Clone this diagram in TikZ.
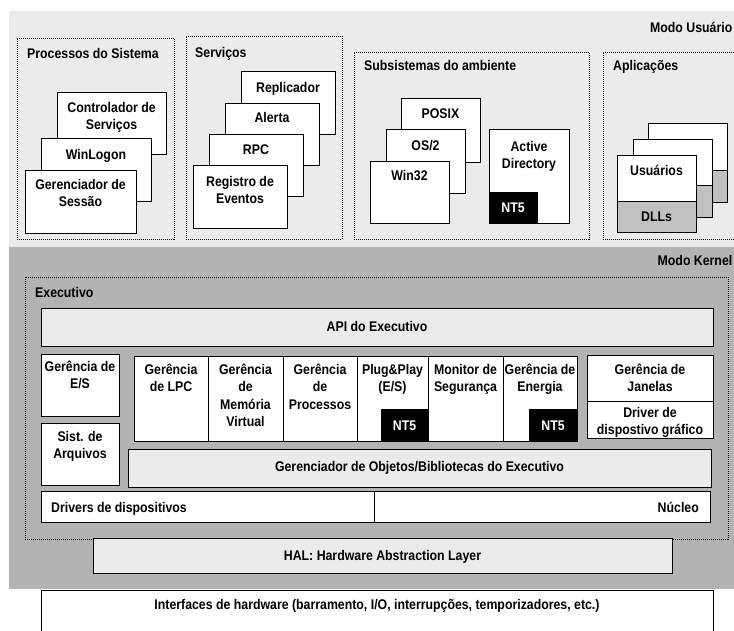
\documentclass[tikz,border=0pt]{standalone}
\usepackage{fontspec}
\setmainfont{Liberation Sans}[FakeStretch=0.88]
\definecolor{lightbg}{HTML}{EBEBEB}
\definecolor{kernbg}{HTML}{B3B3B3}
\definecolor{dllgray}{HTML}{C0C0C0}
\newcommand\bx[6]{\node[#1, anchor=north west, minimum width={(#5-#3)*1pt}, minimum height={(#6-#4)*1pt}] (#2) at (#3,#4) {};}
\newcommand\sa{\rule{0pt}{13pt}}
\newcommand\sd{\rule[-3pt]{0pt}{3pt}}
\begin{document}
\begin{tikzpicture}[x=1pt,y=-1pt,
  font=\fontsize{14}{17}\selectfont\bfseries,
  box/.style={draw=black, line width=0.9pt, fill=white, inner sep=0pt, outer sep=0pt},
  grbox/.style={box, fill=lightbg},
  dllbox/.style={box, fill=dllgray},
  group/.style={draw=black, line width=0.7pt, dash pattern=on 1pt off 1pt, inner sep=0pt, outer sep=0pt},
  bg/.style={draw=none, inner sep=0pt, outer sep=0pt},
  ntbox/.style={fill=black, draw=black, line width=0.9pt, inner sep=0pt, outer sep=0pt},
  txt/.style={inner sep=0pt, text height=13pt, text depth=3pt},
  ml/.style={inner sep=0pt, align=center},
  colml/.style={ml, font=\fontsize{14}{17.5}\selectfont\bfseries},
  wtxt/.style={txt, text=white}]
\useasboundingbox (0,0) rectangle (734,630);
% backgrounds
\bx{bg, fill=lightbg}{userbg}{9}{11}{745}{247}
\bx{bg, fill=kernbg}{kernelbg}{9}{247}{745}{589}
\bx{box}{hw}{41}{590}{713}{650}
\node[txt] (thw) at (377,604) {Interfaces de hardware (barramento, I/O, interrupções, temporizadores, etc.)};
% user mode
\node[txt, anchor=east] (tusr) at (732.5,27) {Modo Usuário};
\bx{group}{gproc}{17}{38}{174}{239}
\node[txt, anchor=west] (tproc) at (27,53) {Processos do Sistema};
\bx{group}{gserv}{186}{36}{342}{239}
\node[txt, anchor=west] (tserv) at (195,52) {Serviços};
\bx{group}{gsub}{354}{52}{589}{239}
\node[txt, anchor=west] (tsub) at (364,65) {Subsistemas do ambiente};
\bx{group}{gapp}{603}{52}{750}{239}
\node[txt, anchor=west] (tapp) at (613,65) {Aplicações};
% Processos do Sistema
\bx{box}{ctrl}{57}{92}{166}{154}
\node[ml] (tctrl) at (111.5,115.5) {\sa Controlador de\\Serviços\sd};
\bx{box}{winlogon}{41}{138}{151}{201}
\node[txt] (twinlogon) at (96,154) {WinLogon};
\bx{box}{gses}{25}{170}{136}{233}
\node[ml] (tgses) at (80.5,193) {\sa Gerenciador de\\Sessão\sd};
% Servicos
\bx{box}{repl}{241}{71}{335}{134}
\node[txt] (trepl) at (288,87) {Replicador};
\bx{box}{alerta}{225}{103}{319}{165}
\node[txt] (talerta) at (272,117) {Alerta};
\bx{box}{rpc}{209}{134}{303}{196}
\node[txt] (trpc) at (256,149) {RPC};
\bx{box}{reg}{193}{165}{287}{228}
\node[ml] (treg) at (240,190) {\sa Registro de\\Eventos\sd};
% Subsistemas
\bx{box}{posix}{401}{98}{480}{162}
\node[txt] (tposix) at (440.5,113) {POSIX};
\bx{box}{os2}{386}{129}{465}{193}
\node[txt] (tos2) at (425.5,145) {OS/2};
\bx{box}{win32}{370}{161}{449}{223}
\node[txt] (twin32) at (409.5,175) {Win32};
\bx{box}{adir}{489}{129}{569}{223}
\node[ml] (tadir) at (529,155) {\sa Active\\Directory\sd};
\bx{ntbox}{ntad}{489}{192}{537}{223}
\node[wtxt] (tntad) at (513,207.5) {NT5};
% Aplicacoes
\bx{box}{app3}{648}{123}{727}{202}
\bx{dllbox}{dll3}{648}{170}{727}{202}
\bx{box}{app2}{633}{139}{712}{217}
\bx{dllbox}{dll2}{633}{185}{712}{217}
\bx{box}{app1}{617}{155}{696}{232}
\bx{dllbox}{dll1}{617}{201}{696}{232}
\node[txt] (tusu) at (656.5,170) {Usuários};
\node[txt] (tdll) at (656.5,216) {DLLs};
% kernel mode
\node[txt, anchor=east] (tkern) at (732.5,260) {Modo Kernel};
\bx{group}{gexec}{25}{277}{728}{539}
\node[txt, anchor=west] (texec) at (35,292) {Executivo};
\bx{grbox}{api}{41}{308}{713}{346}
\node[txt] (tapi) at (377,326) {API do Executivo};
\bx{box}{es}{41}{354}{119}{416}
\node[ml] (tes) at (80,375) {\sa Gerência de\\E/S\sd};
\bx{box}{sarq}{41}{423}{119}{485}
\node[ml] (tsarq) at (80,444.5) {\sa Sist. de\\Arquivos\sd};
% columns
\bx{box}{lpc}{134}{356}{208}{441}
\node[colml] (tlpc) at (171,377.75) {\sa Gerência\\de LPC\sd};
\bx{box}{mem}{208}{356}{283}{441}
\node[colml] (tmem) at (245.5,395.25) {\sa Gerência\\de\\Memória\\Virtual\sd};
\bx{box}{proc}{283}{356}{357}{441}
\node[colml] (tproc2) at (320,386.5) {\sa Gerência\\de\\Processos\sd};
\bx{box}{pnp}{357}{356}{428}{441}
\node[colml] (tpnp) at (392.5,377.75) {\sa Plug\&Play\\(E/S)\sd};
\bx{box}{mon}{428}{356}{503}{441}
\node[colml] (tmon) at (465.5,377.75) {\sa Monitor de\\Segurança\sd};
\bx{box}{ene}{503}{356}{577}{441}
\node[colml] (tene) at (540,377.75) {\sa Gerência de\\Energia\sd};
\bx{ntbox}{ntpnp}{381}{409}{428}{441}
\node[wtxt] (tntpnp) at (404.5,425) {NT5};
\bx{ntbox}{ntene}{529}{409}{577}{441}
\node[wtxt] (tntene) at (553,425) {NT5};
\bx{box}{jan}{587}{355}{713}{401}
\node[ml] (tjan) at (650,378) {\sa Gerência de\\Janelas\sd};
\bx{box}{drvg}{587}{401}{713}{438}
\node[ml] (tdrvg) at (650,420.5) {\sa Driver de\\dispostivo gráfico\sd};
\bx{grbox}{obj}{128}{449}{711}{487}
\node[txt] (tobj) at (419.5,466) {Gerenciador de Objetos/Bibliotecas do Executivo};
\bx{box}{drv}{41}{491}{374}{522}
\node[txt, anchor=west] (tdrv) at (51,507) {Drivers de dispositivos};
\bx{box}{nuc}{374}{491}{710}{522}
\node[txt, anchor=east] (tnuc) at (699,507) {Núcleo};
\bx{grbox}{hal}{93}{538}{672}{573}
\node[txt] (thal) at (382.5,555) {HAL: Hardware Abstraction Layer};
\end{tikzpicture}
\end{document}
